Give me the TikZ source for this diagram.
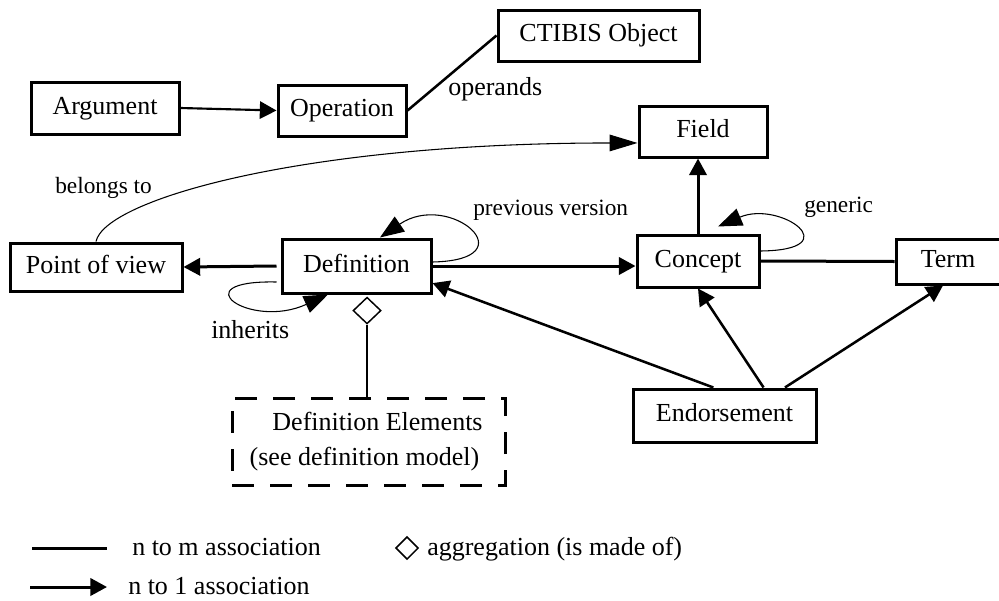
\documentclass[tikz,border=0pt]{standalone}
\usepackage{fontspec}
\setmainfont{Liberation Serif}
\usetikzlibrary{arrows.meta,shapes.geometric,calc}
\newcommand\boxfont{\fontsize{19.5pt}{23pt}\selectfont}
\newcommand\tagfont{\fontsize{17.5pt}{21pt}\selectfont}
\begin{document}
\begin{tikzpicture}[x=0.75pt,y=-0.75pt,
  box/.style={draw, line width=2.25pt, inner sep=0pt, font=\boxfont,
    text height=13.5pt, text depth=4.3pt},
  elembox/.style={draw, line width=2.25pt, inner sep=0pt, font=\boxfont,
    align=center, dash pattern=on 16.5pt off 12pt},
  lbl/.style={inner sep=0pt, font=\boxfont},
  smalllbl/.style={inner sep=0pt, font=\tagfont},
  assoc/.style={line width=1.9pt},
  heavy/.style={line width=2.25pt},
  medium/.style={line width=1.9pt},
  light/.style={line width=1.6pt},
  thinline/.style={line width=0.8pt},
  tonone/.style={-{Triangle[length=12.5pt,width=13pt]}},
  tolong/.style={-{Triangle[length=21pt,width=12.5pt]}},
  toloop/.style={-{Triangle[length=18pt,width=13.5pt]}},
  aggr/.style={draw, shape=diamond, inner sep=0pt, line width=1.1pt, fill=white}
]
\useasboundingbox (0,0) rectangle (999,600);

% classes
\node[box, minimum width=111pt,    minimum height=39pt]    (arg)   at (105,108)   {Argument};
\node[box, minimum width=96pt,     minimum height=38.25pt] (op)    at (342,110.5) {Operation};
\node[box, minimum width=150.75pt, minimum height=38.25pt] (obj)   at (598.5,35.5) {CTIBIS Object};
\node[box, minimum width=96pt,     minimum height=38.25pt] (field) at (703,131.5) {Field};
\node[box, minimum width=129pt,    minimum height=36pt]    (pov)   at (96,267)    {Point of view};
\node[box, minimum width=111.75pt, minimum height=40.5pt]  (def)   at (356.5,266) {Definition};
\node[box, minimum width=91.5pt,   minimum height=39pt]    (con)   at (698,261)   {Concept};
\node[box, minimum width=78pt,     minimum height=33.75pt] (term)  at (948,261.5) {Term};
\node[box, minimum width=137.25pt, minimum height=39.75pt] (endo)  at (724.5,415.5) {Endorsement};
\node[elembox, minimum width=204.75pt, minimum height=65.25pt] (elem) at (368.5,441.5)
  {\hspace*{13.5pt}Definition Elements\\[3pt](see definition model)\hspace*{6pt}};

% associations
\draw[light, tonone] (arg.east) -- (op.west);
\draw[assoc] (op.east) -- (obj.west);
\node[lbl, anchor=base west] (operands) at (448,95) {operands};

\draw[thinline, tolong] (pov.north) .. controls (105,200) and (300,143) .. ([yshift=-8.6pt]field.west);
\node[smalllbl, anchor=base west] (belongs) at (55,193) {belongs to};

\draw[heavy, tonone] ([xshift=-3pt]def.west) -- (pov.east);
\draw[heavy, tonone] (def.east) -- (def.east -| con.west);
\draw[heavy, tonone] (con.north) -- (con.north |- field.south);
\draw[heavy] (con.east) -- (term.west);

\draw[medium, tonone] ($(endo.north west)!0.44!(endo.north east)$) -- ($(def.east)!0.6!(def.south east)$);
\draw[medium, tonone] ($(endo.north west)!0.71!(endo.north east)$) -- (con.south);
\draw[medium, tonone] ($(endo.north west)!0.825!(endo.north east)$) -- ([xshift=-3.75pt]term.south);

% self associations
\draw[thinline, toloop] ([yshift=3pt]def.east) .. controls (530,260) and (450,190) .. ([xshift=17.6pt]def.north);
\node[smalllbl, anchor=base west] (prev) at (473,215) {previous version};

\draw[thinline, toloop] ([xshift=-3pt,yshift=-12pt]def.west) .. controls (180,280) and (250,330) .. ([xshift=-21.4pt]def.south);
\node[lbl, anchor=base west] (inh) at (211,338) {inherits};

\draw[thinline, toloop] ([yshift=7.5pt]con.east) .. controls (850,250) and (780,200) .. ([xshift=15pt,yshift=5.25pt]con.north);
\node[smalllbl, anchor=base west] (gen) at (804,212) {generic};

% aggregation
\node[aggr, minimum width=21pt, minimum height=20pt, anchor=north] (agg) at ([xshift=7.9pt,yshift=-1.5pt]def.south) {};
\draw[medium] (agg.south) -- (agg.south |- elem.north);

% legend
\coordinate (la) at (32,548);
\coordinate (lb) at (107,548);
\draw[heavy] (la) -- (lb);
\node[lbl, anchor=base west] (lt1) at (132,555) {n to m association};
\coordinate (lc) at (30,587);
\coordinate (ld) at (107,587);
\draw[heavy, tonone] (lc) -- (ld);
\node[lbl, anchor=base west] (lt2) at (128,594) {n to 1 association};
\node[aggr, minimum width=17pt, minimum height=17pt] (lagg) at (407,548) {};
\node[lbl, anchor=base west] (lt3) at (427,555) {aggregation (is made of)};
\end{tikzpicture}
\end{document}
